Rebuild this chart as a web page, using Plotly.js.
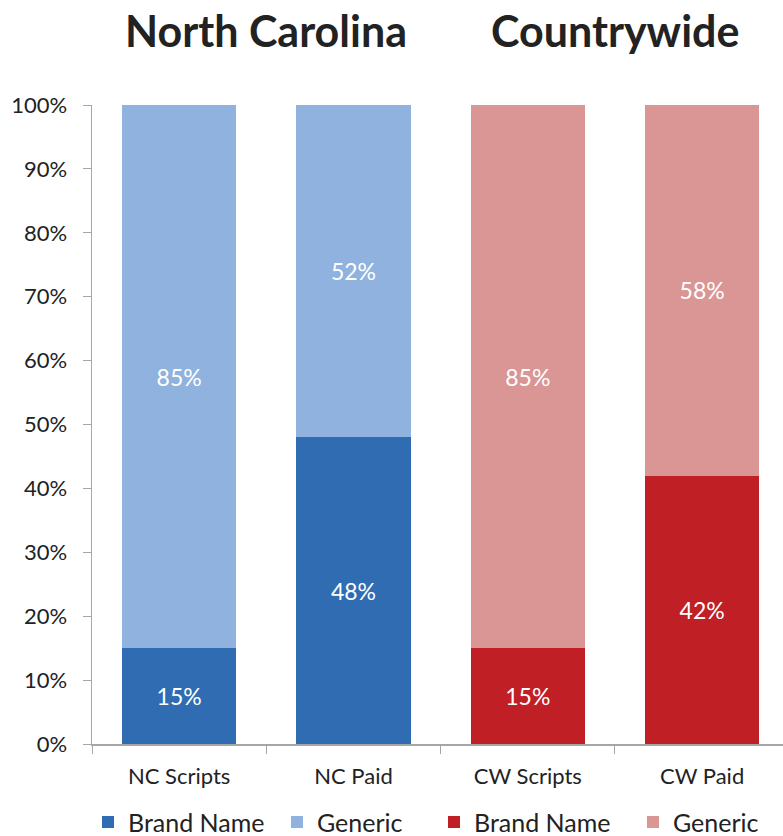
<!DOCTYPE html>
<html><head><meta charset="utf-8">
<script src="https://cdn.plot.ly/plotly-3.0.1.min.js"></script>
<style>html,body{margin:0;padding:0;background:#fff}</style>
</head><body>
<div id="chart" style="width:783px;height:836px"></div>
<script>
const ncCategories = ["NC Scripts", "NC Paid"];
const cwCategories = ["CW Scripts", "CW Paid"];
const ncBrand = [15, 48];
const ncGeneric = [85, 52];
const cwBrand = [15, 42];
const cwGeneric = [85, 58];
const yTickVals = [0,10,20,30,40,50,60,70,80,90,100];
const yTickText = yTickVals.map(v => v + "%");
const groupTitles = ["North Carolina", "Countrywide"];

const FONT = "Lato, 'Open Sans', sans-serif";
function pct(a){ return a.map(v => v + "%"); }
function bar(name, x, y, color, legend){
  return {type:"bar", name:name, x:x, y:y, text:pct(y), textposition:"inside",
    insidetextanchor:"middle", textfont:{color:"#ffffff", size:23, family:FONT},
    marker:{color:color, line:{width:0}}, width:0.655, hoverinfo:"skip", legend:legend};
}
const data = [
  bar("Brand Name", ncCategories, ncBrand, "#2F6CB2", "legend"),
  bar("Generic", ncCategories, ncGeneric, "#8FB3DE", "legend"),
  bar("Brand Name", cwCategories, cwBrand, "#C01F26", "legend2"),
  bar("Generic", cwCategories, cwGeneric, "#D99694", "legend2")
];
const legendBase = {orientation:"h", xanchor:"left", xref:"container", yref:"container",
  y:0.0165, yanchor:"middle", font:{size:25, color:"#222222"}, traceorder:"normal",
  entrywidth:144, entrywidthmode:"pixels",
  itemclick:false, bgcolor:"rgba(0,0,0,0)"};
const layout = {
  width:783, height:836,
  margin:{l:92, r:0, t:105, b:92},
  barmode:"stack",
  showlegend:true,
  font:{family:FONT, color:"#222222"},
  paper_bgcolor:"#ffffff", plot_bgcolor:"#ffffff",
  xaxis:{type:"category", categoryorder:"array",
    categoryarray:ncCategories.concat(cwCategories),
    range:[-0.5, 3.464], showline:true, linecolor:"#a6a6a6", linewidth:1.5,
    ticks:"outside", tickson:"boundaries", ticklen:8, tickcolor:"#a6a6a6",
    ticklabelstandoff:12,
    tickfont:{size:22, color:"#222222"}, showgrid:false, zeroline:false, fixedrange:true,
    automargin:false},
  yaxis:{range:[0,100], tickvals:yTickVals, ticktext:yTickText,
    showline:true, linecolor:"#a6a6a6", linewidth:1.5, ticks:"outside", ticklen:8,
    ticklabelstandoff:11,
    tickcolor:"#a6a6a6", tickfont:{size:22, color:"#222222"}, showgrid:false,
    zeroline:false, fixedrange:true, automargin:false},
  legend:Object.assign({}, legendBase, {x:(104-16)/783}),
  legend2:Object.assign({}, legendBase, {x:(450-16)/783, entrywidth:154}),
  annotations:[
    {text:"<b>"+groupTitles[0]+"</b>", x:0.5, xref:"x", y:1.116, yref:"paper", yanchor:"middle",
      showarrow:false, font:{size:43, color:"#222222", family:FONT}},
    {text:"<b>"+groupTitles[1]+"</b>", x:2.5, xref:"x", y:1.116, yref:"paper", yanchor:"middle",
      showarrow:false, font:{size:43, color:"#222222", family:FONT}}
  ]
};
Plotly.newPlot("chart", data, layout, {displayModeBar:false, staticPlot:true});
</script>
</body></html>
